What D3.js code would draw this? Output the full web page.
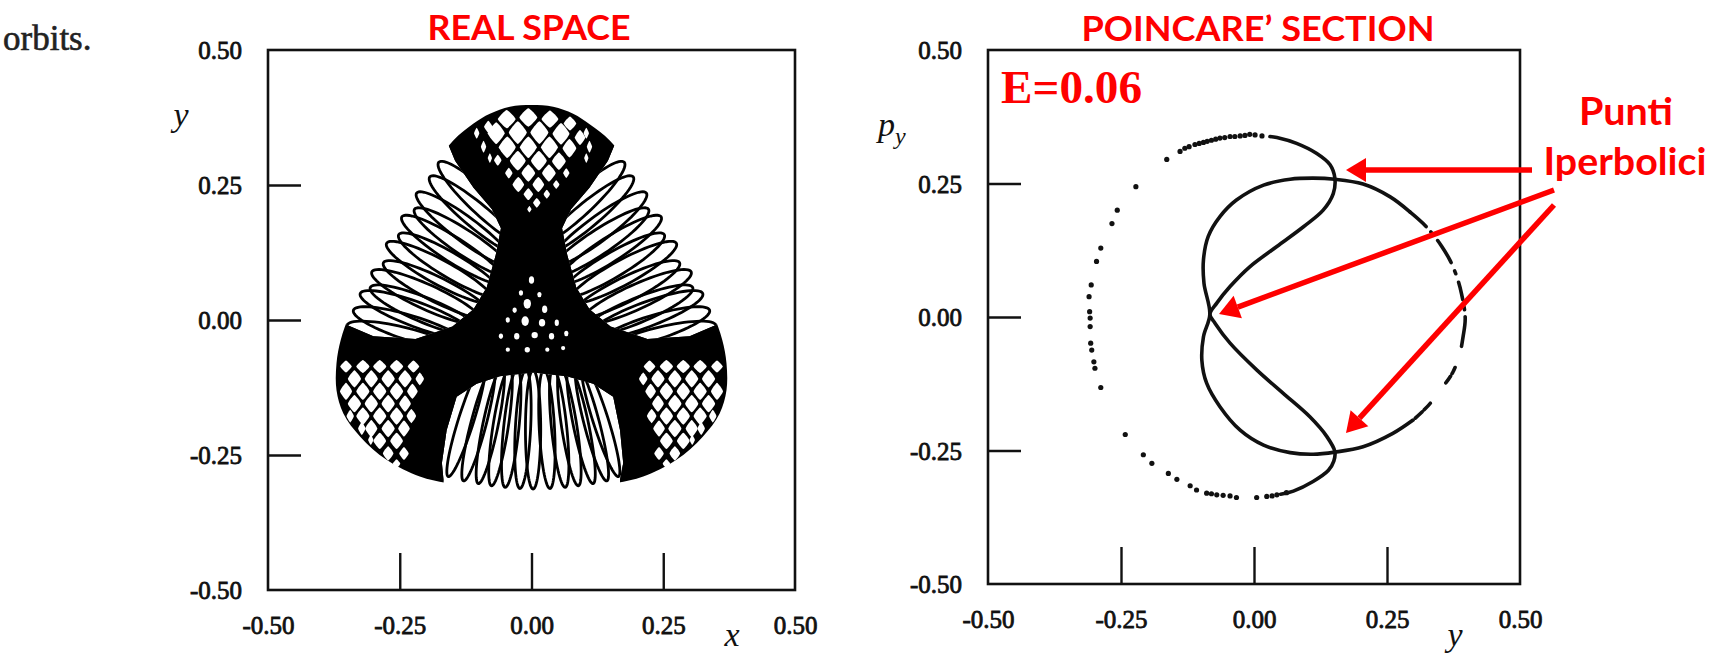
<!DOCTYPE html>
<html><head><meta charset="utf-8">
<script src="https://cdn.jsdelivr.net/npm/d3@7"></script>
<style>body{margin:0;background:#fff;overflow:hidden}</style>
</head><body>
<svg id="c" width="1713" height="655"></svg>
<script>
// ---------- DATA ----------
const tickValues = [-0.5, -0.25, 0, 0.25, 0.5];
const tickLabels = ["-0.50", "-0.25", "0.00", "0.25", "0.50"];
const innerTicks = [-0.25, 0, 0.25];

// Real space: outline of the region filled by the orbit [x, y]
const envelope = [[0,0.398],[0.041,0.395],[0.079,0.382],[0.111,0.362],[0.148,0.333],[0.18,0.293],[0.195,0.265],[0.218,0.234],[0.246,0.191],[0.275,0.142],[0.303,0.09],[0.325,0.05],[0.345,0.01],[0.362,-0.037],[0.37,-0.08],[0.37,-0.13],[0.357,-0.173],[0.325,-0.216],[0.275,-0.259],[0.212,-0.29],[0.161,-0.302],[0.09,-0.311],[0,-0.316],[-0.09,-0.311],[-0.161,-0.302],[-0.212,-0.29],[-0.275,-0.259],[-0.325,-0.216],[-0.357,-0.173],[-0.37,-0.13],[-0.37,-0.08],[-0.362,-0.037],[-0.345,0.01],[-0.325,0.05],[-0.303,0.09],[-0.275,0.142],[-0.246,0.191],[-0.218,0.234],[-0.195,0.265],[-0.18,0.293],[-0.148,0.333],[-0.11,0.364],[-0.079,0.382],[-0.041,0.395]];

// open windows (white) where single loops are visible
const lobeUpperLeft = [[-0.16,0.33],[-0.44,0.04],[-0.44,-0.01],[-0.36,-0.005],[-0.30,-0.03],[-0.22,-0.035],[-0.15,-0.012],[-0.11,0.02],[-0.085,0.06],[-0.068,0.12],[-0.058,0.17],[-0.075,0.205],[-0.11,0.245],[-0.145,0.295]];
const lobeUpperRight = [[0.16,0.33],[0.44,0.04],[0.44,-0.01],[0.36,-0.005],[0.30,-0.03],[0.22,-0.035],[0.15,-0.012],[0.11,0.02],[0.085,0.06],[0.068,0.12],[0.058,0.17],[0.075,0.205],[0.11,0.245],[0.145,0.295]];
const lobeBottom = [[-0.167,-0.296],[-0.17,-0.265],[-0.161,-0.204],[-0.142,-0.142],[-0.104,-0.118],[-0.06,-0.104],[0.003,-0.097],[0.067,-0.104],[0.117,-0.118],[0.155,-0.142],[0.168,-0.204],[0.174,-0.265],[0.168,-0.296],[0.17,-0.36],[-0.17,-0.36]];

// loops: [tip x, tip y, direction of the loop axis (deg)]
const loopsUpperLeft = [[-0.176,0.292,-42],[-0.193,0.265,-39],[-0.218,0.235,-36],[-0.222,0.205,-33],[-0.246,0.191,-32],[-0.252,0.158,-30],[-0.275,0.142,-28],[-0.281,0.106,-26],[-0.303,0.089,-24],[-0.306,0.060,-22],[-0.325,0.049,-20],[-0.338,0.018,-17],[-0.350,-0.010,-14]];
const loopsUpperRight = [[0.176,0.292,222],[0.193,0.265,219],[0.218,0.235,216],[0.222,0.205,213],[0.246,0.191,212],[0.252,0.158,210],[0.275,0.142,208],[0.281,0.106,206],[0.303,0.089,204],[0.306,0.060,202],[0.325,0.049,200],[0.338,0.018,197],[0.350,-0.010,194]];
const loopsBottom = [[-0.158,-0.290,72],[-0.129,-0.298,75],[-0.101,-0.303,78],[-0.076,-0.307,81],[-0.050,-0.310,84],[-0.022,-0.312,87],[0.003,-0.313,90],[0.035,-0.312,93],[0.064,-0.310,96],[0.089,-0.307,99],[0.117,-0.303,102],[0.143,-0.298,105],[0.165,-0.290,108]];

// cells of the lattices at the three corners and in the centre: [x, y, half width, half height]
const cellsTop = [[-0.047,0.372,0.017,0.017],[-0.006,0.375,0.017,0.017],[0.035,0.372,0.016,0.016],[0.073,0.364,0.012,0.013],[-0.082,0.358,0.008,0.011],
 [-0.067,0.346,0.016,0.020],[-0.026,0.347,0.017,0.021],[0.015,0.347,0.017,0.021],[0.056,0.345,0.016,0.020],[0.092,0.338,0.010,0.014],
 [-0.046,0.320,0.016,0.020],[-0.006,0.320,0.016,0.020],[0.034,0.320,0.016,0.020],[0.072,0.318,0.013,0.017],
 [-0.064,0.296,0.007,0.010],[-0.026,0.295,0.015,0.018],[0.014,0.295,0.015,0.018],[0.052,0.294,0.013,0.016],
 [-0.043,0.272,0.007,0.010],[-0.006,0.272,0.013,0.016],[0.033,0.272,0.013,0.016],[0.066,0.272,0.006,0.009],
 [-0.025,0.251,0.011,0.014],[0.013,0.251,0.011,0.014],[0.047,0.251,0.006,0.008],
 [-0.006,0.233,0.009,0.011],[0.029,0.233,0.006,0.008],[0.010,0.217,0.007,0.009],[-0.004,0.205,0.004,0.006],
 [-0.104,0.346,0.005,0.010],[-0.091,0.321,0.005,0.011],[-0.079,0.300,0.004,0.009],[0.104,0.346,0.005,0.010],[0.110,0.321,0.005,0.011],[0.104,0.300,0.004,0.009]];
const cellsBottomLeft = [[-0.352,-0.086,0.011,0.011],[-0.320,-0.086,0.0125,0.012],[-0.288,-0.086,0.0125,0.012],[-0.256,-0.086,0.0125,0.012],[-0.224,-0.086,0.011,0.011],
 [-0.336,-0.109,0.0125,0.016],[-0.304,-0.109,0.0125,0.016],[-0.272,-0.109,0.0125,0.016],[-0.240,-0.109,0.0125,0.016],[-0.212,-0.109,0.008,0.012],
 [-0.352,-0.132,0.0115,0.016],[-0.320,-0.132,0.0125,0.016],[-0.288,-0.132,0.0125,0.016],[-0.256,-0.132,0.0125,0.016],[-0.226,-0.132,0.010,0.014],
 [-0.336,-0.155,0.0125,0.016],[-0.304,-0.155,0.0125,0.016],[-0.272,-0.155,0.0125,0.016],[-0.240,-0.155,0.011,0.015],
 [-0.344,-0.178,0.007,0.012],[-0.320,-0.178,0.0125,0.016],[-0.288,-0.178,0.0125,0.016],[-0.256,-0.178,0.0125,0.016],[-0.228,-0.178,0.009,0.013],
 [-0.322,-0.201,0.007,0.012],[-0.304,-0.201,0.0115,0.016],[-0.272,-0.201,0.0125,0.016],[-0.242,-0.201,0.011,0.015],
 [-0.288,-0.224,0.012,0.015],[-0.256,-0.224,0.012,0.015],[-0.305,-0.222,0.005,0.009],
 [-0.272,-0.247,0.010,0.013],[-0.242,-0.247,0.009,0.012],[-0.256,-0.266,0.007,0.008]];
const cellsBottomRight = [[0.352,-0.086,0.011,0.011],[0.320,-0.086,0.0125,0.012],[0.288,-0.086,0.0125,0.012],[0.256,-0.086,0.0125,0.012],[0.224,-0.086,0.011,0.011],
 [0.336,-0.109,0.0125,0.016],[0.304,-0.109,0.0125,0.016],[0.272,-0.109,0.0125,0.016],[0.240,-0.109,0.0125,0.016],[0.212,-0.109,0.008,0.012],
 [0.352,-0.132,0.0115,0.016],[0.320,-0.132,0.0125,0.016],[0.288,-0.132,0.0125,0.016],[0.256,-0.132,0.0125,0.016],[0.226,-0.132,0.010,0.014],
 [0.336,-0.155,0.0125,0.016],[0.304,-0.155,0.0125,0.016],[0.272,-0.155,0.0125,0.016],[0.240,-0.155,0.011,0.015],
 [0.344,-0.178,0.007,0.012],[0.320,-0.178,0.0125,0.016],[0.288,-0.178,0.0125,0.016],[0.256,-0.178,0.0125,0.016],[0.228,-0.178,0.009,0.013],
 [0.322,-0.201,0.007,0.012],[0.304,-0.201,0.0115,0.016],[0.272,-0.201,0.0125,0.016],[0.242,-0.201,0.011,0.015],
 [0.288,-0.224,0.012,0.015],[0.256,-0.224,0.012,0.015],[0.305,-0.222,0.005,0.009],
 [0.272,-0.247,0.010,0.013],[0.242,-0.247,0.009,0.012],[0.256,-0.266,0.007,0.008]];
const cellsCentre = [[0.000,0.074,0.005,0.007],[-0.020,0.050,0.004,0.005],[0.015,0.047,0.004,0.005],[-0.008,0.030,0.007,0.009],[-0.032,0.018,0.004,0.005],[0.025,0.020,0.005,0.007],[-0.045,0.000,0.004,0.005],[-0.012,-0.002,0.007,0.009],[0.020,-0.005,0.006,0.007],[0.048,-0.005,0.004,0.006],[-0.058,-0.030,0.004,0.005],[-0.028,-0.030,0.005,0.006],[0.006,-0.028,0.006,0.006],[0.038,-0.030,0.005,0.006],[0.066,-0.025,0.004,0.005],[-0.045,-0.055,0.004,0.004],[-0.008,-0.055,0.005,0.005],[0.030,-0.055,0.004,0.004],[0.060,-0.052,0.004,0.004]];

// Poincare section [y, p_y]
const sCurve = [[0.030,0.338],[0.043,0.336],[0.080,0.325],[0.118,0.306],[0.143,0.285],[0.152,0.260],[0.149,0.231],[0.130,0.200],[0.093,0.169],[0.043,0.132],[-0.008,0.094],[-0.045,0.057],[-0.070,0.026],[-0.083,0.005],[-0.073,-0.012],[-0.045,-0.049],[0.005,-0.099],[0.055,-0.143],[0.105,-0.187],[0.137,-0.224],[0.152,-0.252],[0.150,-0.270],[0.140,-0.287],[0.111,-0.308],[0.074,-0.326],[0.050,-0.332]];
const loopLeft = [[0.293,0.197],[0.256,0.225],[0.205,0.249],[0.152,0.258],[0.111,0.260],[0.068,0.258],[0.018,0.247],[-0.033,0.219],[-0.064,0.188],[-0.086,0.151],[-0.095,0.107],[-0.094,0.063],[-0.083,0.005],[-0.095,-0.037],[-0.098,-0.081],[-0.089,-0.124],[-0.064,-0.168],[-0.026,-0.212],[0.018,-0.240],[0.068,-0.254],[0.111,-0.257],[0.152,-0.253],[0.205,-0.243],[0.261,-0.218],[0.299,-0.193]];
const loopRight = [[0.293,0.197],[0.318,0.175],[0.340,0.150],[0.353,0.132],[0.368,0.107],[0.381,0.076],[0.390,0.044],[0.397,-0.002],[0.393,-0.037],[0.387,-0.068],[0.374,-0.103],[0.359,-0.125],[0.346,-0.137],[0.331,-0.162],[0.299,-0.193]];
const outerDots = [[0.015,0.339],[0.002,0.341],[-0.008,0.342],[-0.017,0.340],[-0.026,0.339],[-0.036,0.338],[-0.045,0.338],[-0.055,0.336],[-0.064,0.335],[-0.072,0.333],[-0.080,0.331],[-0.088,0.329],[-0.095,0.327],[-0.103,0.325],[-0.111,0.323],[-0.122,0.319],[-0.130,0.316],[-0.139,0.310],[-0.164,0.295],[-0.222,0.244],[-0.257,0.200],[-0.267,0.175],[-0.288,0.129],[-0.296,0.104],[-0.306,0.060],[-0.310,0.038],[-0.309,0.010],[-0.308,-0.002],[-0.308,-0.018],[-0.307,-0.049],[-0.305,-0.062],[-0.301,-0.084],[-0.299,-0.096],[-0.288,-0.132],[-0.242,-0.220],[-0.208,-0.258],[-0.192,-0.274],[-0.161,-0.293],[-0.145,-0.304],[-0.120,-0.316],[-0.108,-0.324],[-0.089,-0.330],[-0.080,-0.331],[-0.070,-0.333],[-0.058,-0.334],[-0.045,-0.335],[-0.033,-0.338],[0.005,-0.338],[0.024,-0.336],[0.034,-0.335],[0.043,-0.333],[0.061,-0.329]];

// ---------- DRAW ----------
const svg = d3.select("#c");
svg.append("rect").attr("width",1713).attr("height",655).attr("fill","#fff");

const xL = d3.scaleLinear().domain([-0.5,0.5]).range([268,795]);
const yL = d3.scaleLinear().domain([-0.5,0.5]).range([590,50]);
const xR = d3.scaleLinear().domain([-0.5,0.5]).range([988,1520]);
const yR = d3.scaleLinear().domain([-0.5,0.5]).range([584,50]);

const serif = "'Liberation Serif','Times New Roman',serif";
const sans = "Lato,'Open Sans','Liberation Sans',sans-serif";
const ink = "#111";

function frame(g, x, y){
  const [x0,x1] = x.range(), [y1,y0] = y.range();
  g.append("rect").attr("x",x0).attr("y",y0).attr("width",x1-x0).attr("height",y1-y0)
    .attr("fill","none").attr("stroke",ink).attr("stroke-width",2.6);
  g.append("g").attr("transform",`translate(${x0},0)`)
    .call(d3.axisRight(y).tickValues(innerTicks).tickSize(33).tickFormat(""))
    .call(a=>{a.select(".domain").remove(); a.selectAll("line").attr("stroke",ink).attr("stroke-width",2.6);});
  g.append("g").attr("transform",`translate(0,${y1})`)
    .call(d3.axisTop(x).tickValues(innerTicks).tickSize(37).tickFormat(""))
    .call(a=>{a.select(".domain").remove(); a.selectAll("line").attr("stroke",ink).attr("stroke-width",2.4);});
  const lab = a=>{a.select(".domain").remove(); a.selectAll("text").attr("font-family",serif).attr("font-size",25).attr("fill",ink).attr("stroke",ink).attr("stroke-width",0.8);};
  g.append("g").attr("transform",`translate(${x0},0)`)
    .call(d3.axisLeft(y).tickValues(tickValues).tickSize(0).tickPadding(26).tickFormat((d,i)=>tickLabels[i]))
    .call(lab).call(a=>a.selectAll("text").attr("dy","0.34em"));
  g.append("g").attr("transform",`translate(0,${y1})`)
    .call(d3.axisBottom(x).tickValues(tickValues).tickSize(0).tickPadding(31).tickFormat((d,i)=>tickLabels[i]))
    .call(lab).call(a=>a.selectAll("text").attr("dy","0.5em"));
}

const gL = svg.append("g"), gR = svg.append("g");
const toL = p => [xL(p[0]), yL(p[1])];
const poly = d3.line().curve(d3.curveLinearClosed);
const smoothClosed = d3.line().curve(d3.curveCatmullRomClosed);
const rounded = d3.line().curve(d3.curveCardinalClosed.tension(0.55));

gL.append("path").attr("d", smoothClosed(envelope.map(toL))).attr("fill","#000");

function loopPts(l, A, B){
  const phi = l[2]*Math.PI/180, c=Math.cos(phi), s=Math.sin(phi);
  const cx = l[0]+A*c, cy = l[1]+A*s;
  return d3.range(0,72).map(i=>{const t=i/72*2*Math.PI;
    return toL([cx+A*Math.cos(t)*c - B*Math.sin(t)*s, cy+A*Math.cos(t)*s + B*Math.sin(t)*c]);});
}
const defs = svg.append("defs");
[["ul",lobeUpperLeft,loopsUpperLeft,0.115,0.023],["ur",lobeUpperRight,loopsUpperRight,0.115,0.023],["bt",lobeBottom,loopsBottom,0.11,0.0145]].forEach(([id,win,loops,A,B])=>{
  defs.append("clipPath").attr("id","clip-"+id).append("path").attr("d",poly(win.map(toL)));
  const g = gL.append("g").attr("clip-path",`url(#clip-${id})`);
  g.append("path").attr("d",poly(win.map(toL))).attr("fill","#fff");
  g.selectAll("path.loop").data(loops).join("path").attr("class","loop")
    .attr("d",l=>poly(loopPts(l,A,B))).attr("fill","none").attr("stroke","#000").attr("stroke-width",2.8);
});
function cell(h){
  return rounded([[h[0]-h[2],h[1]],[h[0],h[1]+h[3]],[h[0]+h[2],h[1]],[h[0],h[1]-h[3]]].map(toL));
}
[cellsTop, cellsBottomLeft, cellsBottomRight].forEach(hs=>{
  gL.append("g").selectAll("path").data(hs).join("path").attr("d",cell).attr("fill","#fff");
});
gL.append("g").selectAll("ellipse").data(cellsCentre).join("ellipse")
  .attr("cx",h=>xL(h[0])).attr("cy",h=>yL(h[1]))
  .attr("rx",h=>xL(h[2])-xL(0)).attr("ry",h=>yL(0)-yL(h[3])).attr("fill","#fff");
frame(gL, xL, yL);

// Poincare section
const toR = p => [xR(p[0]), yR(p[1])];
const smooth = d3.line().curve(d3.curveCatmullRom);
function curve(sel){return sel.attr("fill","none").attr("stroke",ink).attr("stroke-width",3.6).attr("stroke-linecap","round");}
curve(gR.append("path").attr("d",smooth(sCurve.map(toR))));
curve(gR.append("path").attr("d",smooth(loopLeft.map(toR))));
curve(gR.append("path").attr("d",smooth(loopRight.map(toR)))).attr("stroke-dasharray","22,7,3,8,26,9,3,9,18,7,3,7,30");
gR.append("g").selectAll("circle").data(outerDots).join("circle")
  .attr("cx",d=>xR(d[0])).attr("cy",d=>yR(d[1])).attr("r",2.6).attr("fill",ink);
frame(gR, xR, yR);

// axis titles
const it = (x,y,t)=>svg.append("text").attr("x",x).attr("y",y).attr("text-anchor","middle").attr("font-family",serif).attr("font-style","italic").attr("font-size",34).attr("fill",ink).text(t);
it(181,126,"y"); it(732,646,"x"); it(1455,646,"y");
const py = svg.append("text").attr("x",878).attr("y",136).attr("font-family",serif).attr("font-style","italic").attr("font-size",34).attr("fill",ink);
py.append("tspan").text("p");
py.append("tspan").attr("font-size",24).attr("dy",8).text("y");
svg.append("text").attr("x",3).attr("y",50).attr("font-family",serif).attr("font-size",35).attr("fill","#222").attr("stroke","#222").attr("stroke-width",0.6).text("orbits.");

// red annotations
const red = "#fe0000";
const lab = (x,y,t,fam,size,len,anchor)=>svg.append("text").attr("x",x).attr("y",y).attr("text-anchor",anchor).attr("font-family",fam).attr("font-weight","bold").attr("font-size",size).attr("fill",red).attr("textLength",len).attr("lengthAdjust","spacingAndGlyphs").text(t);
lab(529,40,"REAL SPACE",sans,34,203,"middle");
lab(1258,41,"POINCARE\u2019 SECTION",sans,34,353,"middle");
lab(1001,103,"E=0.06",serif,46,141,"start");
lab(1626,125,"Punti",sans,38,94,"middle");
lab(1625,175,"Iperbolici",sans,38,163,"middle");

// arrows: [from, to] in page pixels
const arrows = [[[1532,170],[1346,170]],[[1554,190],[1219,314]],[[1554,205],[1346,433]]];
arrows.forEach(([a,b])=>{
  const dx=b[0]-a[0], dy=b[1]-a[1], L=Math.hypot(dx,dy), ux=dx/L, uy=dy/L;
  const hl=20, hw=12, bx=b[0]-ux*hl, by=b[1]-uy*hl;
  svg.append("line").attr("x1",a[0]).attr("y1",a[1]).attr("x2",bx).attr("y2",by).attr("stroke",red).attr("stroke-width",5.5);
  svg.append("path").attr("d",`M${b[0]},${b[1]}L${bx-uy*hw},${by+ux*hw}L${bx+uy*hw},${by-ux*hw}Z`).attr("fill",red);
});
</script>
</body></html>
